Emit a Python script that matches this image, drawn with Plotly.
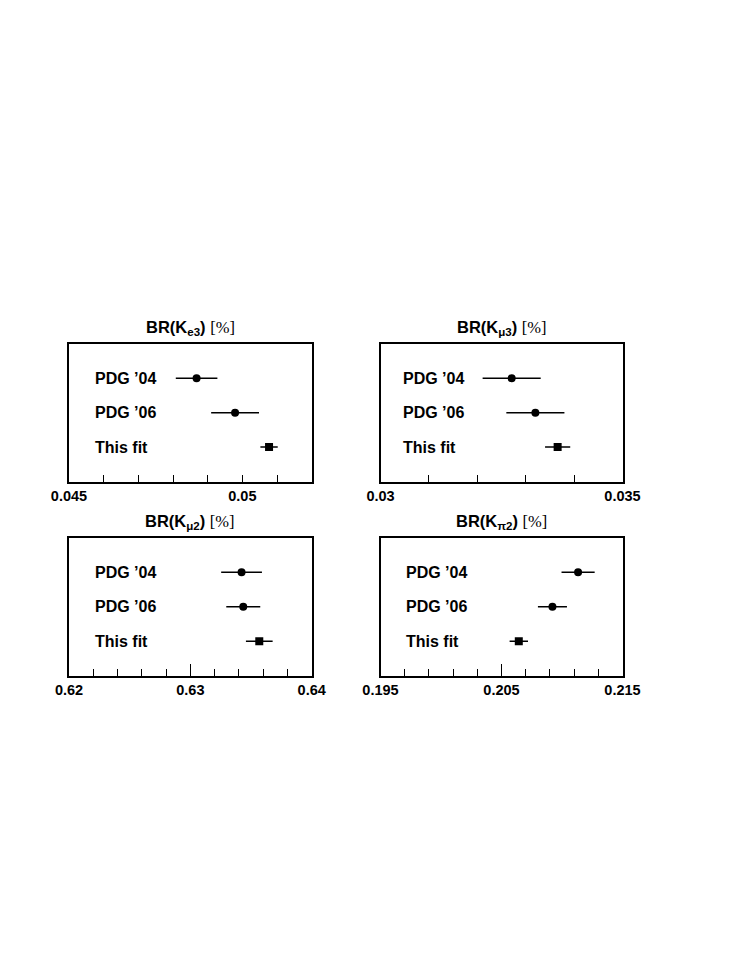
import plotly.graph_objects as go

# ---------------- data ----------------
labels = ["PDG \u201904", "PDG \u201906", "This fit"]
label_y = [3, 2, 1]

ke3_vals = [0.04868, 0.04979, 0.05077]
ke3_errs = [0.00060, 0.00069, 0.00025]

kmu3_vals = [0.03271, 0.03320, 0.03366]
kmu3_errs = [0.00060, 0.00060, 0.00026]

kmu2_vals = [0.63422, 0.63436, 0.63568]
kmu2_errs = [0.00168, 0.00140, 0.00110]

kpi2_vals = [0.21133, 0.20921, 0.20643]
kpi2_errs = [0.00137, 0.00120, 0.00076]

titles = ["BR(K<sub>e3</sub>)", "BR(K<sub>\u03bc3</sub>)",
          "BR(K<sub>\u03bc2</sub>)", "BR(K<sub>\u03c02</sub>)"]

ranges = [[0.045, 0.052], [0.030, 0.035], [0.620, 0.640], [0.195, 0.215]]
major_ticks = [[0.045, 0.05], [0.03, 0.035], [0.62, 0.63, 0.64], [0.195, 0.205, 0.215]]
major_text = [["0.045", "0.05"], ["0.03", "0.035"], ["0.62", "0.63", "0.64"],
              ["0.195", "0.205", "0.215"]]
minor_dtick = [0.001, 0.001, 0.002, 0.002]
major_len = [7, 7, 12, 12]

vals = [ke3_vals, kmu3_vals, kmu2_vals, kpi2_vals]
errs = [ke3_errs, kmu3_errs, kmu2_errs, kpi2_errs]

# ---------------- layout geometry ----------------
W, H = 747, 967
OFF = 8  # page body margin
xdoms = [[(69.0 - OFF) / W, (311.7 - OFF) / W], [(380.5 - OFF) / W, (622.5 - OFF) / W]]
ydoms = [[(H - (481.5 - OFF)) / H, (H - (343.8 - OFF)) / H],
         [(H - (675.7 - OFF)) / H, (H - (537.7 - OFF)) / H]]
label_x = [0.099, 0.083, 0.099, 0.099]

fig = go.Figure()
FONT = "Liberation Sans, Arial, Helvetica, sans-serif"

for i in range(4):
    r, c = divmod(i, 2)
    xa = "x" if i == 0 else f"x{i+1}"
    ya = "y" if i == 0 else f"y{i+1}"
    xkey = "xaxis" if i == 0 else f"xaxis{i+1}"
    ykey = "yaxis" if i == 0 else f"yaxis{i+1}"
    v, e = vals[i], errs[i]
    fig.add_trace(go.Scatter(
        x=v[:2], y=label_y[:2], mode="markers",
        marker=dict(symbol="circle", size=8, color="black"),
        error_x=dict(type="data", array=e[:2], color="black", thickness=1.5, width=0),
        xaxis=xa, yaxis=ya, showlegend=False))
    fig.add_trace(go.Scatter(
        x=v[2:], y=label_y[2:], mode="markers",
        marker=dict(symbol="square", size=8, color="black"),
        error_x=dict(type="data", array=e[2:], color="black", thickness=1.5, width=0),
        xaxis=xa, yaxis=ya, showlegend=False))

    lo, hi = ranges[i]
    d = minor_dtick[i]
    n = int(round((hi - lo) / d))
    tv = [round(lo + k * d, 6) for k in range(n + 1)]

    fig.layout[xkey] = dict(
        domain=xdoms[c], anchor=ya, range=[lo, hi],
        showline=True, linecolor="black", linewidth=2, mirror=True,
        showgrid=False, zeroline=False, automargin=False,
        ticks="inside", ticklen=major_len[i], tickwidth=1, tickcolor="black",
        tickvals=major_ticks[i], ticktext=major_text[i],
        tickfont=dict(family=FONT, size=14.5, color="black", weight="bold"),
        minor=dict(tickvals=tv, ticklen=7, tickwidth=1, tickcolor="black",
                   ticks="inside", showgrid=False),
    )
    fig.layout[ykey] = dict(
        domain=ydoms[r], anchor=xa, range=[0, 4], automargin=False,
        showline=True, linecolor="black", linewidth=2, mirror=True,
        showgrid=False, zeroline=False, showticklabels=False, ticks="")

    for lab, yy in zip(labels, label_y):
        fig.add_annotation(
            text=f"<b>{lab}</b>", xref=f"{xa} domain", yref=ya,
            x=label_x[i], y=yy, xanchor="left", yanchor="middle", showarrow=False,
            font=dict(family=FONT, size=16, color="black"))
    fig.add_annotation(
        text=f"<b>{titles[i]}</b> <span style='font-family:Liberation Serif'>[%]</span>",
        xref=f"{xa} domain", yref=f"{ya} domain", x=0.5, y=1,
        xanchor="center", yanchor="middle", yshift=16, showarrow=False,
        font=dict(family=FONT, size=16.5, color="black"))

fig.update_layout(
    width=W, height=H, margin=dict(l=0, r=0, t=0, b=0),
    paper_bgcolor="white", plot_bgcolor="white",
    font=dict(family=FONT, color="black"),
)

fig.write_html("out.html")
